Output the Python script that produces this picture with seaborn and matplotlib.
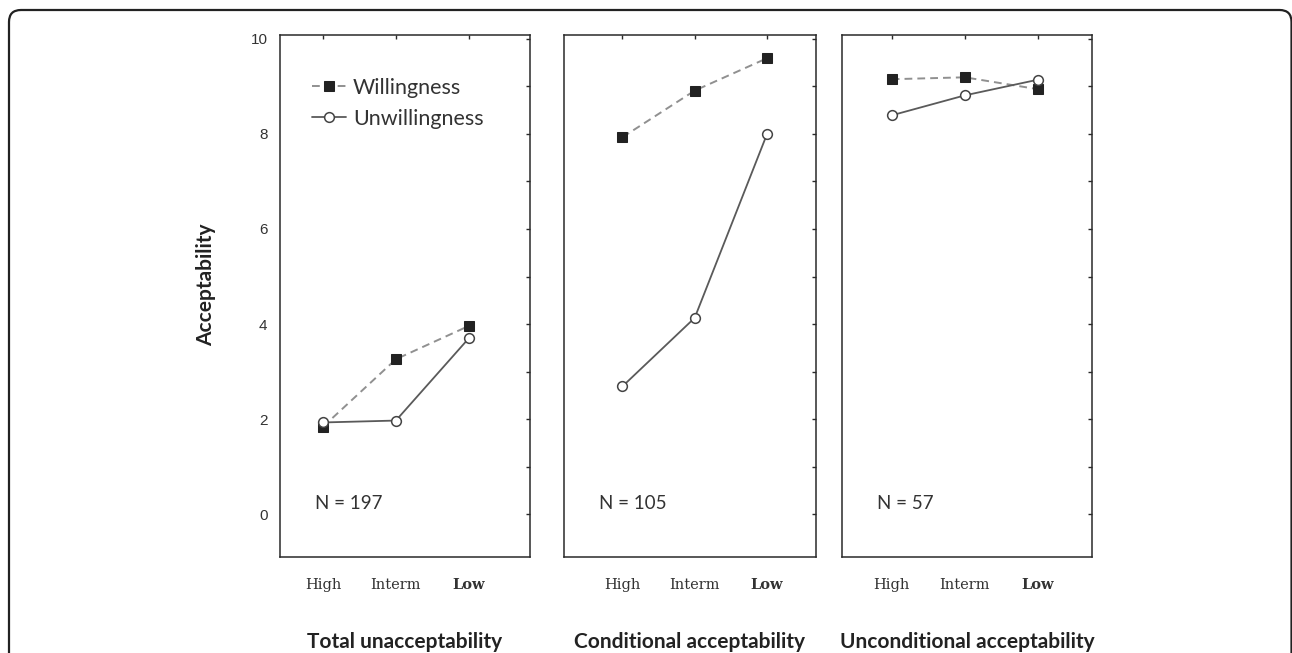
import pandas as pd
import matplotlib.pyplot as plt
import seaborn as sns
from matplotlib.patches import FancyBboxPatch
from matplotlib.ticker import MultipleLocator

# ---------------- data ----------------
levels = ["High", "Interm", "Low"]
panels = ["Total unacceptability", "Conditional acceptability", "Unconditional acceptability"]
n_labels = ["N = 197", "N = 105", "N = 57"]

willing_total = [1.84, 3.26, 3.96]
willing_cond = [7.93, 8.91, 9.59]
willing_uncond = [9.15, 9.19, 8.94]

unwilling_total = [1.93, 1.97, 3.70]
unwilling_cond = [2.69, 4.13, 7.99]
unwilling_uncond = [8.39, 8.81, 9.14]

willing = [willing_total, willing_cond, willing_uncond]
unwilling = [unwilling_total, unwilling_cond, unwilling_uncond]

rows = []
for p, w, u in zip(panels, willing, unwilling):
    for lv, wv, uv in zip(levels, w, u):
        rows.append({"panel": p, "level": lv, "group": "Willingness", "value": wv})
        rows.append({"panel": p, "level": lv, "group": "Unwillingness", "value": uv})
df = pd.DataFrame(rows)

# ---------------- style ----------------
sns.set_theme(style="white")
plt.rcParams['font.family'] = ['Lato', 'DejaVu Sans']
plt.rcParams['axes.edgecolor'] = '#2a2a2a'
plt.rcParams['axes.linewidth'] = 1.1

fig = plt.figure(figsize=(12.92, 6.53), dpi=100)

# rounded frame around the figure (open at the bottom)
frame = FancyBboxPatch((0.09, -0.5), 12.825, 6.93,
                       boxstyle="round,pad=0,rounding_size=0.12",
                       transform=fig.dpi_scale_trans, fill=False,
                       edgecolor='#222222', linewidth=1.6, clip_on=False)
fig.patches.append(frame)

lefts = [280, 564, 842]
widths = [250, 252, 250]
xlims = [(-0.59, 2.84), (-0.81, 2.68), (-0.68, 2.74)]
W, H = 1292, 653
top, bottom = 35, 557

for i, p in enumerate(panels):
    ax = fig.add_axes([lefts[i] / W, (H - bottom) / H, widths[i] / W, (bottom - top) / H])
    sub = df[df.panel == p]

    sns.lineplot(data=sub[sub.group == "Willingness"], x="level", y="value", ax=ax,
                 errorbar=None, sort=False, color='#909090', linestyle=(0, (4, 2.6)),
                 linewidth=1.4, marker='s', markersize=7, markerfacecolor='#222222',
                 markeredgecolor='#222222', label="Willingness", legend=False)
    sns.lineplot(data=sub[sub.group == "Unwillingness"], x="level", y="value", ax=ax,
                 errorbar=None, sort=False, color='#5a5a5a', linewidth=1.3,
                 marker='o', markersize=7, markerfacecolor='white',
                 markeredgecolor='#444444', markeredgewidth=1.1,
                 label="Unwillingness", legend=False)

    ax.set_xlim(*xlims[i])
    ax.set_ylim(-0.9, 10.08)
    ax.set_xticks(range(len(levels)))
    ax.set_xticklabels(levels, family='DejaVu Serif', fontsize=10.5, color='#333333')
    ax.get_xticklabels()[2].set_fontweight('bold')
    ax.yaxis.set_major_locator(MultipleLocator(2))
    ax.yaxis.set_minor_locator(MultipleLocator(1))
    ax.tick_params(axis='both', which='both', direction='in', length=3, width=1,
                   top=True, right=True, color='#2a2a2a')
    ax.tick_params(axis='y', which='minor', left=False, right=True)
    ax.tick_params(axis='x', pad=15)
    ax.set_xlabel("")
    ax.set_ylabel("")
    if i == 0:
        ax.tick_params(axis='y', pad=9, labelsize=11, labelcolor='#333333')
        for t in ax.get_yticklabels():
            t.set_family('Liberation Sans')
        ax.set_ylabel("Acceptability", fontsize=15, fontweight='bold', color='#222222')
        ax.yaxis.set_label_coords(-0.256, 0.521)
        handles, labels = ax.get_legend_handles_labels()
        ax.legend(handles, labels, loc='upper left', bbox_to_anchor=(0.05, 0.955),
                  frameon=False, handlelength=1.6, handletextpad=0.3,
                  labelspacing=0.5, fontsize=15.5, labelcolor='#333333')
    else:
        ax.set_yticklabels([])

    ax.text(0.14, 0.102, n_labels[i], transform=ax.transAxes, fontsize=13.5,
            color='#333333', va='center', ha='left')
    ax.text(0.5, -0.163, p, transform=ax.transAxes, fontsize=15, fontweight='bold',
            color='#222222', va='center', ha='center')

fig.savefig("out.png", dpi=100)
